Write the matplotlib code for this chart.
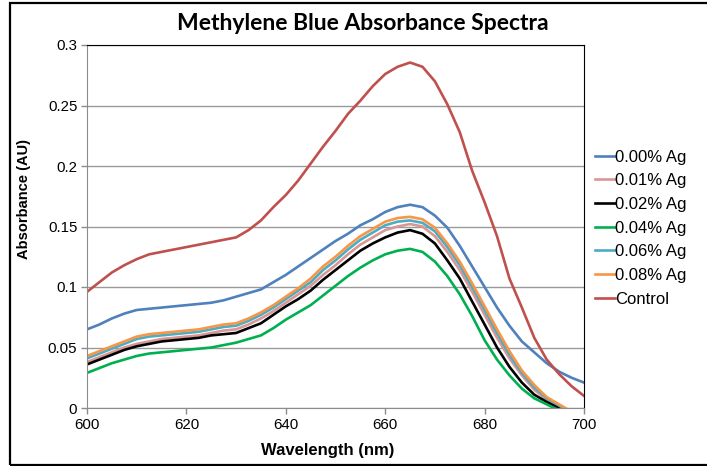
#!/usr/bin/env python3
''' Methylene blue absorbance spectra, silver loadings vs control
'''

import numpy as np
import matplotlib
matplotlib.use('Agg')
from matplotlib import pyplot
from matplotlib.patches import Rectangle

#
# data
#

wavelength = [600, 602.5, 605, 607.5, 610, 612.5, 615, 617.5, 620, 622.5,
    625, 627.5, 630, 632.5, 635, 637.5, 640, 642.5, 645, 647.5,
    650, 652.5, 655, 657.5, 660, 662.5, 665, 667.5, 670, 672.5,
    675, 677.5, 680, 682.5, 685, 687.5, 690, 692.5, 695, 697.5, 700]

ag_000 = [0.065, 0.069, 0.074, 0.078, 0.081, 0.082, 0.083, 0.084, 0.085, 0.086,
    0.087, 0.089, 0.092, 0.095, 0.098, 0.104, 0.110, 0.117, 0.124, 0.131,
    0.138, 0.144, 0.151, 0.156, 0.162, 0.166, 0.168, 0.166, 0.159, 0.149,
    0.134, 0.117, 0.100, 0.083, 0.068, 0.055, 0.046, 0.037, 0.030, 0.025, 0.021]

ag_001 = [0.038, 0.042, 0.046, 0.050, 0.053, 0.055, 0.057, 0.058, 0.059, 0.060,
    0.062, 0.064, 0.065, 0.069, 0.074, 0.080, 0.087, 0.094, 0.101, 0.110,
    0.118, 0.127, 0.135, 0.141, 0.147, 0.150, 0.152, 0.150, 0.142, 0.129,
    0.114, 0.096, 0.077, 0.058, 0.041, 0.027, 0.015, 0.007, 0.001, -0.004, -0.009]

ag_002 = [0.036, 0.040, 0.044, 0.048, 0.051, 0.053, 0.055, 0.056, 0.057, 0.058,
    0.060, 0.061, 0.062, 0.066, 0.070, 0.077, 0.084, 0.090, 0.097, 0.106,
    0.114, 0.122, 0.130, 0.136, 0.141, 0.145, 0.147, 0.144, 0.136, 0.122,
    0.107, 0.088, 0.069, 0.050, 0.034, 0.021, 0.011, 0.005, 0.000, -0.005, -0.010]

ag_004 = [0.029, 0.033, 0.037, 0.040, 0.043, 0.045, 0.046, 0.047, 0.048, 0.049,
    0.050, 0.052, 0.054, 0.057, 0.060, 0.066, 0.073, 0.079, 0.085, 0.093,
    0.101, 0.109, 0.116, 0.122, 0.127, 0.130, 0.1315, 0.129, 0.121, 0.109,
    0.094, 0.076, 0.056, 0.040, 0.027, 0.016, 0.008, 0.003, -0.002, -0.006, -0.010]

ag_006 = [0.041, 0.045, 0.049, 0.053, 0.057, 0.059, 0.060, 0.061, 0.062, 0.063,
    0.065, 0.067, 0.068, 0.072, 0.077, 0.083, 0.090, 0.097, 0.104, 0.114,
    0.122, 0.131, 0.139, 0.145, 0.151, 0.154, 0.155, 0.153, 0.146, 0.133,
    0.118, 0.100, 0.081, 0.062, 0.044, 0.029, 0.017, 0.008, 0.002, -0.004, -0.009]

ag_008 = [0.043, 0.047, 0.051, 0.055, 0.059, 0.061, 0.062, 0.063, 0.064, 0.065,
    0.067, 0.069, 0.070, 0.074, 0.079, 0.085, 0.092, 0.099, 0.107, 0.117,
    0.125, 0.134, 0.142, 0.148, 0.154, 0.157, 0.158, 0.156, 0.149, 0.136,
    0.121, 0.103, 0.084, 0.065, 0.047, 0.031, 0.019, 0.009, 0.003, -0.003, -0.008]

control = [0.096, 0.104, 0.112, 0.118, 0.123, 0.127, 0.129, 0.131, 0.133, 0.135,
    0.137, 0.139, 0.141, 0.147, 0.155, 0.166, 0.176, 0.188, 0.202, 0.216,
    0.229, 0.243, 0.254, 0.266, 0.276, 0.282, 0.2855, 0.282, 0.270, 0.251,
    0.228, 0.196, 0.170, 0.142, 0.107, 0.083, 0.058, 0.040, 0.028, 0.018, 0.010]

series_labels = ['0.00% Ag', '0.01% Ag', '0.02% Ag', '0.04% Ag',
    '0.06% Ag', '0.08% Ag', 'Control']
series_colors = ['#4F81BD', '#D99694', '#000000', '#00B050',
    '#4BACC6', '#F79646', '#C0504D']

#
# main
#

if __name__ == '__main__':

    series = [ag_000, ag_001, ag_002, ag_004, ag_006, ag_008, control]

    pyplot.rcParams['font.family'] = ['Liberation Sans', 'DejaVu Sans']

    fig = pyplot.figure(figsize=(7.07, 4.66), dpi=100)

    # outer chart border (open on the right, as in the source)
    fig.patches.append(Rectangle((10/707, 1/466), 720/707, 462/466,
        transform=fig.transFigure, fill=False, edgecolor='black',
        linewidth=1.6, zorder=0))

    ax = fig.add_axes([87/707, 58/466, 497/707, 363/466])

    for vals, lab, col in zip(series, series_labels, series_colors):
        ax.plot(wavelength, vals, color=col, lw=1.9, label=lab,
            solid_joinstyle='round')

    ax.set_xlim(600, 700)
    ax.set_ylim(0, 0.3)
    ax.set_xticks(np.arange(600, 701, 20))
    ax.set_yticks(np.arange(0, 0.301, 0.05))
    ax.set_yticklabels(['0', '0.05', '0.1', '0.15', '0.2', '0.25', '0.3'])
    ax.yaxis.grid(True, color='#9a9a9a', lw=1.0)
    ax.set_axisbelow(True)

    for side in ['left', 'bottom']:
        ax.spines[side].set_color('#8c8c8c')
    for side in ['top', 'right']:
        ax.spines[side].set_color('black')
    ax.tick_params(direction='out', length=4, width=1, color='#8c8c8c',
        labelsize=10.8, pad=3)

    ax.set_xlabel('Wavelength (nm)', fontsize=12, fontweight='bold')
    ax.xaxis.set_label_coords(0.484, -0.097)
    ax.set_ylabel('Absorbance (AU)', fontsize=10.5, fontweight='bold')
    ax.yaxis.set_label_coords(-0.112, 0.575)

    fig.text(363/707, 1 - 23/466, 'Methylene Blue Absorbance Spectra',
        ha='center', va='center', fontsize=16.5, fontweight='bold',
        family=['Lato', 'DejaVu Sans'])

    fig.legend(loc='upper left', bbox_to_anchor=(588/707, 1 - 143/466),
        frameon=False, fontsize=12, handlelength=1.2, handletextpad=0.0,
        labelspacing=0.52, borderaxespad=0)

    fig.savefig('out.png', dpi=100)
